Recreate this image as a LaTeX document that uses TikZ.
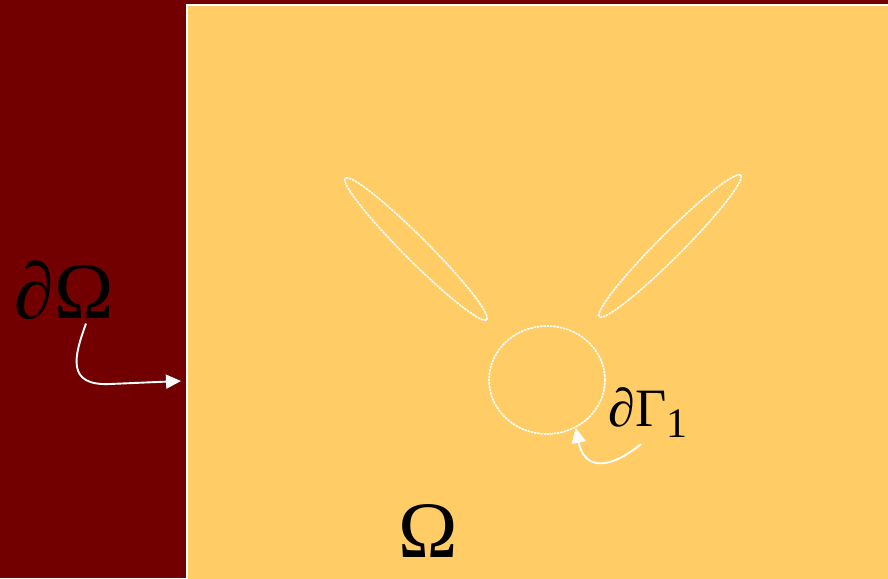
\documentclass[tikz,border=0pt]{standalone}
\usepackage{fontspec}
\setmainfont{Liberation Serif}
\usetikzlibrary{arrows.meta, positioning, shapes.geometric}

\definecolor{outer}{HTML}{720000}
\definecolor{domain}{HTML}{FFCC66}

\begin{document}
\begin{tikzpicture}[
  x=1pt, y=-1pt,
  hole/.style={ellipse, draw=white, line width=1.6pt, dash pattern=on 2.5pt off 0.8pt, inner sep=0pt},
  lbl/.style={inner sep=0pt, text=black},
  conn/.style={-{Triangle[length=15pt, width=14pt]}, draw=white, line width=1.9pt}
]
\useasboundingbox (0,0) rectangle (888,578);
\fill[outer] (0,0) rectangle (888,578);
\draw[white, line width=2pt, fill=domain] (187,5) rectangle (895,585);

% inclusions
\node[hole, minimum width=200pt, minimum height=24pt, rotate=-45] (leaf1) at (416,249) {};
\node[hole, minimum width=200pt, minimum height=24pt, rotate=45] (leaf2) at (670,246) {};
\node[hole, minimum width=116pt, minimum height=108pt] (gamma) at (547,380) {};

% labels
\node[lbl, font=\fontsize{80}{82}\selectfont] (dOmega) at (64,290) {\textit{∂}Ω};
\node[lbl, font=\fontsize{80}{82}\selectfont] (Omega) at (428,531) {Ω};
\node[lbl] (dGamma) at (648,413) {{\fontsize{54}{60}\selectfont\textit{∂}Γ}{\fontsize{42}{50}\selectfont\raisebox{-11pt}{1}}};

\coordinate (wall) at (181,381);

% arrows
\draw[conn] ([xshift=22pt, yshift=-4pt]dOmega.south) .. controls +(-12,33) and (66,386) .. (110,384) -- (wall);
\draw[conn] ([xshift=-7pt, yshift=-6pt]dGamma.south) .. controls +(-35,28) and +(8,40) .. (gamma.-59);
\end{tikzpicture}
\end{document}
